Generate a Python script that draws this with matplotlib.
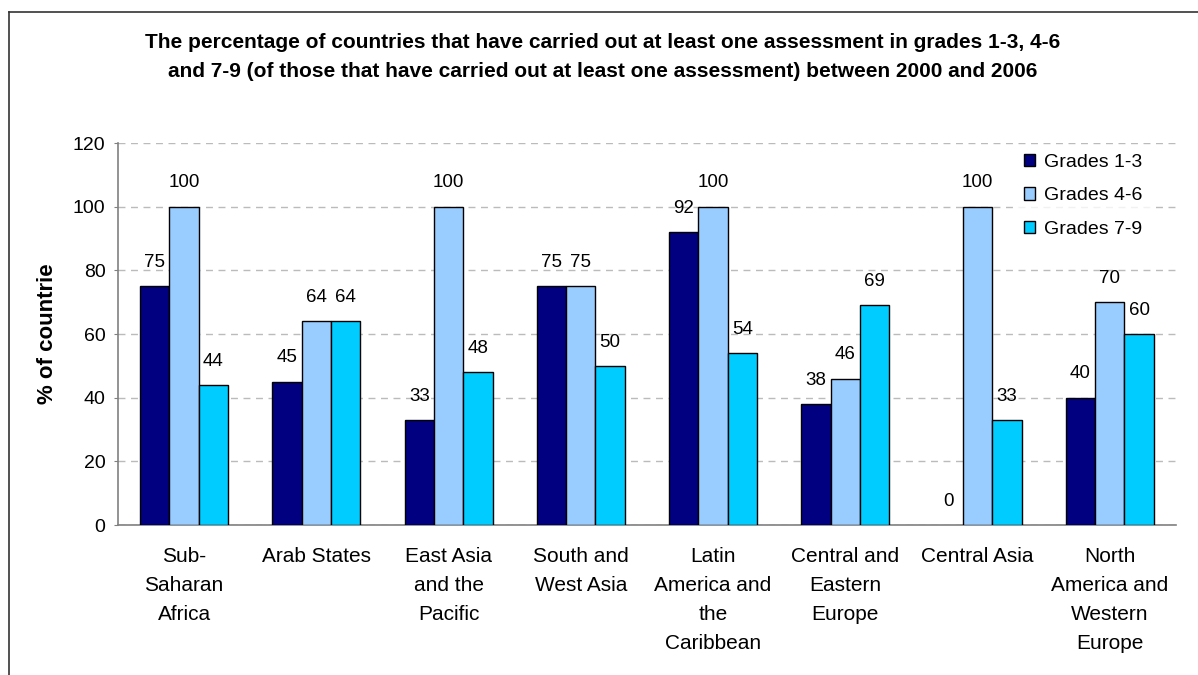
import matplotlib.pyplot as plt
import numpy as np
from matplotlib.lines import Line2D

# Data
regions = ['Sub-\nSaharan\nAfrica', 'Arab States', 'East Asia\nand the\nPacific',
           'South and\nWest Asia', 'Latin\nAmerica and\nthe\nCaribbean',
           'Central and\nEastern\nEurope', 'Central Asia',
           'North\nAmerica and\nWestern\nEurope']
grades_1_3 = [75, 45, 33, 75, 92, 38, 0, 40]
grades_4_6 = [100, 64, 100, 75, 100, 46, 100, 70]
grades_7_9 = [44, 64, 48, 50, 54, 69, 33, 60]
series_names = ['Grades 1-3', 'Grades 4-6', 'Grades 7-9']
colors = ['#000080', '#99CCFF', '#00CCFF']

plt.rcParams['font.family'] = ['Liberation Sans', 'DejaVu Sans']

fig = plt.figure(figsize=(11.98, 6.75), dpi=100)
ax = fig.add_axes([0.0985, 0.2222, 0.883, 0.5659])

x = np.arange(len(regions))
width = 0.222
for i, (vals, name, c) in enumerate(zip([grades_1_3, grades_4_6, grades_7_9], series_names, colors)):
    b = ax.bar(x + (i - 1) * width, vals, width, color=c, edgecolor='black',
               linewidth=1.0, label=name, zorder=3)
    for patch, v in zip(b, vals):
        if v == 0:
            patch.set_linewidth(0)
    for xi, v in zip(x + (i - 1) * width, vals):
        ax.annotate(str(v), (xi, v), xytext=(0, 11), textcoords='offset points',
                    ha='center', va='bottom', fontsize=13.5, zorder=4)

ax.set_xlim(-0.5, len(regions) - 0.5)
ax.set_ylim(0, 120)
ax.set_yticks(range(0, 121, 20))
ax.set_xticks(x)
ax.set_xticklabels(regions, fontsize=15, linespacing=1.67, va='top')
ax.tick_params(axis='x', length=0, pad=16)
ax.tick_params(axis='y', length=3, labelsize=14, pad=6, color='#808080')
ax.yaxis.grid(True, linestyle=(0, (5, 4)), color='#BBBBBB', linewidth=1.0, zorder=0)
for s in ['top', 'right']:
    ax.spines[s].set_visible(False)
for s in ['left', 'bottom']:
    ax.spines[s].set_color('#808080')
    ax.spines[s].set_linewidth(1.2)

ax.set_ylabel('% of countrie', fontsize=16, fontweight='bold')
ax.yaxis.set_label_coords(-0.057, 0.5)

leg = ax.legend(loc='upper left', bbox_to_anchor=(0.8395, 1.018), frameon=True,
                fontsize=14, handlelength=0.6, handleheight=0.6,
                handletextpad=0.45, labelspacing=0.85, borderpad=0.4)
leg.get_frame().set_facecolor('white')
leg.get_frame().set_edgecolor('white')
leg.set_zorder(5)

fig.text(0.503, 0.915, 'The percentage of countries that have carried out at least one assessment in grades 1-3, 4-6\n'
         'and 7-9 (of those that have carried out at least one assessment) between 2000 and 2006',
         ha='center', va='center', fontsize=15, fontweight='bold', linespacing=1.65)

# outer chart frame (left and top edges visible)
fig.add_artist(Line2D([9 / 1198, 9 / 1198], [0, 1 - 12 / 675], color='#333333', linewidth=1.2))
fig.add_artist(Line2D([9 / 1198, 1], [1 - 12 / 675, 1 - 12 / 675], color='#333333', linewidth=1.2))

fig.savefig('out.png', dpi=100)
